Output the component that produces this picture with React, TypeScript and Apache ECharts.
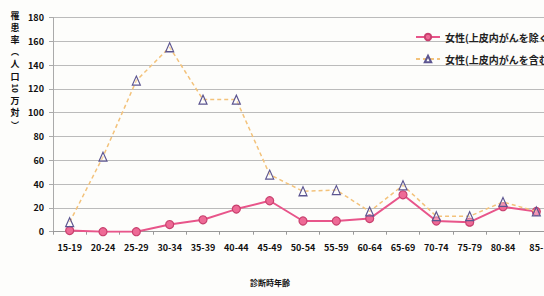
import React, { useEffect, useRef } from "react";
import * as echarts from "echarts";

const categories = ["15-19","20-24","25-29","30-34","35-39","40-44","45-49","50-54","55-59","60-64","65-69","70-74","75-79","80-84","85-"];
const excludeInSitu = [1, 0, 0, 6, 10, 19, 26, 9, 9, 11, 31, 9, 8, 21, 17];
const includeInSitu = [8, 63, 127, 155, 111, 111, 48, 34, 35, 17, 39, 13, 13, 25, 17];
const seriesNames = ["女性(上皮内がんを除く)", "女性(上皮内がんを含む)"];
const yTicks = { min: 0, max: 180, interval: 20 };
const yAxisTitle = ["罹", "患", "率", "︵", "人", "口", "10", "万", "対", "︶"];
const xAxisTitle = "診断時年齢";

const FONT = "'Noto Sans CJK JP', 'DejaVu Sans Condensed', sans-serif";

export default function App() {
  const ref = useRef<HTMLDivElement>(null);
  useEffect(() => {
    if (!ref.current) return;
    const chart = echarts.init(ref.current, null, { renderer: "svg" });
    const titleEls = yAxisTitle.map((ch, i) => {
      const small = ch === "10" || ch === "︵" || ch === "︶";
      const fs = small ? 8 : 9;
      return {
        type: "text",
        x: 15,
        y: 15 + 12.2 * i,
        rotation: ch === "10" ? -Math.PI / 2 : 0,
        style: {
          text: ch,
          fontFamily: FONT,
          fontSize: fs,
          lineHeight: fs,
          fontWeight: "bold",
          fill: "#111",
          align: "center",
          verticalAlign: "middle",
        },
      };
    });
    chart.setOption({
      animation: false,
      backgroundColor: "#fdfdfb",
      grid: { left: 53, top: 17.5, bottom: 64.3, width: 500, containLabel: false },
      legend: {
        orient: "vertical",
        left: 410,
        top: 27,
        itemWidth: 24,
        itemHeight: 8,
        itemGap: 12,
        textStyle: { fontFamily: FONT, fontSize: 10, fontWeight: "bold", color: "#222" },
        data: seriesNames,
      },
      xAxis: {
        type: "category",
        data: categories,
        boundaryGap: true,
        axisLine: { lineStyle: { color: "#999" } },
        axisTick: { show: true, length: 3, lineStyle: { color: "#999" } },
        axisLabel: { interval: 0, margin: 11, fontFamily: FONT, fontSize: 9, fontWeight: "bold", color: "#111" },
      },
      yAxis: {
        type: "value",
        min: yTicks.min,
        max: yTicks.max,
        interval: yTicks.interval,
        axisLine: { show: true, lineStyle: { color: "#aaa" } },
        axisTick: { show: true, length: 4, lineStyle: { color: "#aaa" } },
        splitLine: { lineStyle: { color: "#bbb", width: 1 } },
        axisLabel: { margin: 9, fontFamily: FONT, fontSize: 9, fontWeight: "bold", color: "#111" },
      },
      graphic: [
        ...titleEls,
        {
          type: "text",
          left: 250,
          top: 278,
          style: { text: xAxisTitle, fontFamily: FONT, fontSize: 8, fontWeight: "bold", fill: "#111" },
        },
      ],
      series: [
        {
          name: seriesNames[0],
          type: "line",
          data: excludeInSitu,
          z: 3,
          symbol: "circle",
          symbolSize: 8,
          lineStyle: { color: "#e8558a", width: 2 },
          itemStyle: { color: "#ee6a96", borderColor: "#c8406e", borderWidth: 1.2 },
        },
        {
          name: seriesNames[1],
          type: "line",
          data: includeInSitu,
          z: 4,
          symbol: "triangle",
          symbolSize: [8, 9],
          lineStyle: { color: "#f3c27a", width: 1.5, type: [4, 3] },
          itemStyle: { color: "rgba(255,255,255,0.3)", borderColor: "#5c5590", borderWidth: 1.2 },
        },
      ],
    });
    return () => chart.dispose();
  }, []);
  return (
    <div style={{ position: "absolute", left: 0, top: 0, width: 544, height: 296, overflow: "hidden" }}>
      <div ref={ref} style={{ width: 560, height: 296 }} />
    </div>
  );
}
